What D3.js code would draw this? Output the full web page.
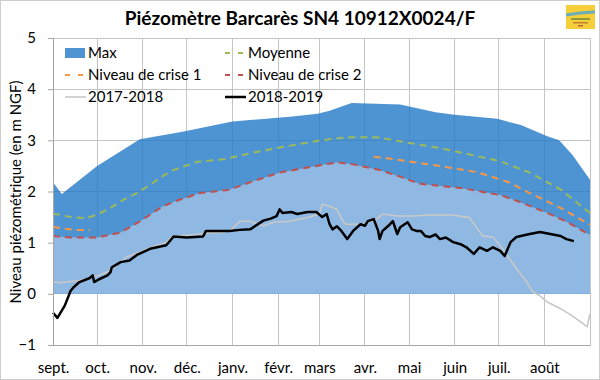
<!DOCTYPE html>
<html><head><meta charset="utf-8">
<script src="https://cdn.jsdelivr.net/npm/d3@7"></script>
<style>
body{margin:0;background:#fff}
svg{display:block;font-family:Lato,"Open Sans",sans-serif}
</style>
</head><body>
<svg id="chart" width="600" height="380"></svg>
<script>
// ---------------- data ----------------
const chartTitle = "Piézomètre Barcarès SN4 10912X0024/F";
const yAxisTitle = "Niveau piézométrique (en m NGF)";
const monthLabels = ["sept.","oct.","nov.","déc.","janv.","févr.","mars","avr.","mai","juin","juil.","août"];
const yTickValues = [-1,0,1,2,3,4,5];
const seriesNames = ["Max","Moyenne","Niveau de crise 1","Niveau de crise 2","2017-2018","2018-2019"];

// [days since 1 September, level in m NGF]
const maxLevel = [[0,2.18],[6,1.95],[30,2.5],[59,3.02],[88,3.17],[122,3.37],[161,3.46],[180,3.52],[188,3.58],[203,3.73],[236,3.70],[260,3.55],[273,3.5],[302,3.42],[318,3.3],[336,3.08],[344,3.0],[353,2.72],[365,2.23]];
const moyenne = [[0,1.57],[12,1.5],[23,1.48],[30,1.55],[39,1.68],[48,1.84],[57,1.97],[61,2.04],[80,2.4],[98,2.58],[116,2.63],[136,2.76],[154,2.86],[182,3.0],[200,3.06],[220,3.06],[248,2.92],[263,2.85],[284,2.72],[304,2.59],[324,2.37],[345,2.04],[365,1.58]];
const crise1 = [[0,1.31],[8,1.27],[16,1.25],[25,1.25],[26,null],[217,null],[218,2.68],[225,2.66],[258,2.52],[288,2.38],[309,2.19],[324,1.97],[345,1.68],[365,1.35]];
const crise2 = [[0,1.13],[12,1.1],[30,1.1],[46,1.2],[52,1.3],[61,1.45],[74,1.7],[84,1.82],[100,1.97],[119,2.03],[136,2.2],[154,2.37],[173,2.47],[193,2.57],[204,2.53],[222,2.42],[236,2.29],[249,2.15],[277,2.07],[304,1.93],[317,1.8],[336,1.58],[349,1.41],[365,1.15]];
const year2017 = [[0,0.23],[5,0.22],[12,0.24],[18,0.26],[23,0.3],[30,0.35],[37,0.43],[43,0.55],[50,0.72],[59,0.82],[66,0.9],[77,1.01],[82,1.13],[93,1.15],[105,1.19],[114,1.2],[120,1.23],[127,1.42],[134,1.42],[139,1.36],[143,1.33],[150,1.40],[161,1.42],[173,1.49],[181,1.56],[183,1.75],[188,1.71],[193,1.65],[197,1.42],[199,1.36],[211,1.36],[220,1.46],[224,1.56],[234,1.52],[245,1.52],[256,1.54],[272,1.54],[283,1.49],[287,1.33],[292,1.13],[299,1.11],[304,0.94],[309,0.74],[315,0.49],[322,0.23],[326,0.04],[331,-0.04],[336,-0.16],[345,-0.29],[353,-0.43],[363,-0.64],[365,-0.39]];
const year2018 = [[0,-0.37],[3,-0.47],[8,-0.23],[12,0.06],[14,0.13],[18,0.23],[25,0.31],[27,0.36],[28,0.23],[31,0.28],[37,0.36],[39,0.42],[40,0.52],[46,0.62],[52,0.65],[57,0.76],[66,0.88],[77,0.95],[82,1.12],[91,1.10],[102,1.12],[104,1.23],[120,1.23],[127,1.25],[134,1.26],[143,1.43],[148,1.47],[152,1.52],[154,1.65],[156,1.58],[162,1.6],[166,1.56],[173,1.6],[179,1.6],[183,1.5],[186,1.56],[188,1.36],[190,1.26],[193,1.32],[196,1.23],[200,1.07],[204,1.23],[209,1.36],[212,1.33],[214,1.42],[218,1.46],[221,1.23],[222,1.07],[224,1.23],[228,1.33],[231,1.42],[234,1.17],[236,1.30],[241,1.40],[244,1.26],[247,1.23],[250,1.23],[253,1.13],[256,1.11],[260,1.16],[263,1.07],[267,1.10],[272,1.01],[277,0.97],[281,0.91],[286,0.78],[290,0.91],[295,0.84],[299,0.91],[304,0.84],[307,0.74],[311,1.01],[315,1.11],[324,1.17],[331,1.21],[338,1.17],[345,1.13],[349,1.07],[354,1.03]];

// ---------------- chart ----------------
const svg = d3.select("#chart");
const start = new Date(2018, 8, 1), end = new Date(2019, 8, 1);
const x = d3.scaleTime().domain([start, end]).range([53, 590]);
const y = d3.scaleLinear().domain([-1, 5]).range([345, 38]);
const day = d => d3.timeDay.offset(start, d);
const monthStarts = d3.timeMonth.range(start, end);

// outer border
svg.append("rect").attr("x",0.5).attr("y",0.5).attr("width",599).attr("height",379)
  .attr("fill","none").attr("stroke","#9a9a9a").attr("stroke-dasharray","1,1");

// gridlines
const grid = svg.append("g").attr("stroke","#c4c4c4").attr("stroke-width",1).attr("shape-rendering","crispEdges");
grid.selectAll(".h").data(yTickValues).join("line")
  .attr("x1",x.range()[0]).attr("x2",x.range()[1]).attr("y1",d=>y(d)).attr("y2",d=>y(d));
grid.selectAll(".v").data(monthStarts.concat([end])).join("line")
  .attr("x1",d=>x(d)).attr("x2",d=>x(d)).attr("y1",y.range()[1]).attr("y2",y.range()[0]);

// areas
const area = d3.area().x(d=>x(day(d[0]))).y0(y(0)).y1(d=>y(d[1]));
svg.append("path").datum(maxLevel).attr("d",area).attr("fill","rgb(40,125,200)").attr("fill-opacity",0.82);
svg.append("path").datum(crise2).attr("d",area).attr("fill","#8fb8e2");

// lines
const line = d3.line().defined(d=>d[1]!==null).x(d=>x(day(d[0]))).y(d=>y(d[1]));
svg.append("path").datum(year2017).attr("d",line).attr("fill","none").attr("stroke","#c8c8c8").attr("stroke-width",1.6);
svg.append("path").datum(year2018).attr("d",line).attr("fill","none").attr("stroke","#000").attr("stroke-width",2.5).attr("stroke-linejoin","round");
svg.append("path").datum(moyenne).attr("d",line).attr("fill","none").attr("stroke","#9bbb59").attr("stroke-width",2).attr("stroke-dasharray","7,5");
svg.append("path").datum(crise1).attr("d",line).attr("fill","none").attr("stroke","#f79646").attr("stroke-width",2).attr("stroke-dasharray","7,5");
svg.append("path").datum(crise2).attr("d",line).attr("fill","none").attr("stroke","#c0504d").attr("stroke-width",2).attr("stroke-dasharray","7,5");

// axes
const yAxis = svg.append("g").attr("transform","translate(53,0)")
  .call(d3.axisLeft(y).tickValues(yTickValues).tickSize(5).tickPadding(12).tickFormat(d3.format("d")));
yAxis.select(".domain").attr("stroke","#a6a6a6");
yAxis.selectAll(".tick line").attr("stroke","#a6a6a6");
yAxis.selectAll("text").attr("font-size",15).attr("fill","#000").attr("font-family","Lato,sans-serif");

const xAxis = svg.append("g").attr("transform","translate(0,345)")
  .call(d3.axisBottom(x).tickValues(monthStarts).tickSize(0).tickFormat((d,i)=>monthLabels[i]));
xAxis.select(".domain").attr("stroke","#a6a6a6");
xAxis.selectAll("text").attr("y",28).attr("dy",0).attr("font-size",15).attr("fill","#000").attr("font-family","Lato,sans-serif");

// titles
svg.append("text").attr("x",300).attr("y",25).attr("text-anchor","middle")
  .attr("font-size",19).attr("font-weight","bold").text(chartTitle);
svg.append("text").attr("transform","translate(21,192) rotate(-90)").attr("text-anchor","middle")
  .attr("font-size",15).text(yAxisTitle);

// legend
const legendStyles = [
  {type:"rect", color:"rgb(40,125,200)", op:0.82},
  {type:"dash", color:"#9bbb59"},
  {type:"dash", color:"#f79646"},
  {type:"dash", color:"#c0504d"},
  {type:"line", color:"#c8c8c8", w:1.6},
  {type:"line", color:"#000", w:2.5}
];
const lg = svg.append("g");
seriesNames.forEach((name,i)=>{
  const col = i%2, row = Math.floor(i/2);
  const gx = col===0 ? 65 : 225, gy = 53 + row*22;
  const st = legendStyles[i];
  if (st.type==="rect") {
    lg.append("rect").attr("x",gx).attr("y",gy-5).attr("width",20).attr("height",10).attr("fill",st.color).attr("fill-opacity",st.op);
  } else if (st.type==="dash") {
    lg.append("line").attr("x1",gx).attr("x2",gx+21).attr("y1",gy).attr("y2",gy).attr("stroke",st.color).attr("stroke-width",2).attr("stroke-dasharray","5,8");
  } else {
    lg.append("line").attr("x1",gx).attr("x2",gx+21).attr("y1",gy).attr("y2",gy).attr("stroke",st.color).attr("stroke-width",st.w);
  }
  lg.append("text").attr("x",gx+23).attr("y",gy+5).attr("font-size",15).attr("fill","#000").text(name);
});

// small logo
const logo = svg.append("g");
logo.append("rect").attr("x",566).attr("y",5).attr("width",29).attr("height",24).attr("fill","#f4cf3a");
logo.append("path").attr("d","M566,15 L580,13 L595,12").attr("stroke","#4aa6d6").attr("stroke-width",3).attr("fill","none").attr("opacity",0.8);
logo.append("rect").attr("x",571).attr("y",18).attr("width",19).attr("height",2).attr("fill","#8a9a3a");
logo.append("rect").attr("x",573).attr("y",22).attr("width",15).attr("height",1.5).attr("fill","#c08030");
logo.append("rect").attr("x",578).attr("y",25).attr("width",5).attr("height",1.5).attr("fill","#c06040");
</script>
</body></html>
